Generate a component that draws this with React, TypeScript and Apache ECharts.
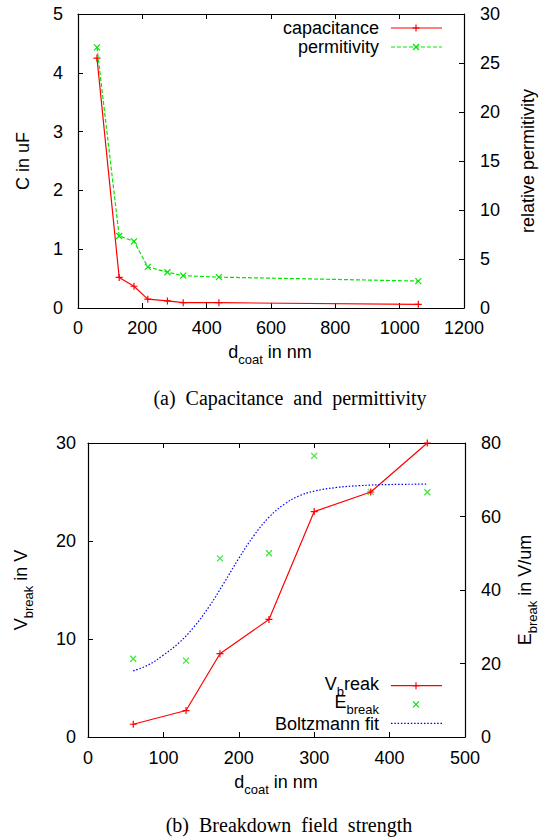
import React, { useEffect, useRef } from 'react';
import * as echarts from 'echarts';

// ---- (a) Capacitance and permittivity ----
const dCoatA = [59, 128, 174, 217, 278, 327, 438, 1058];
const capacitance = [4.25, 0.52, 0.37, 0.15, 0.12, 0.09, 0.09, 0.063];
const permittivity = [26.6, 7.35, 6.8, 4.2, 3.65, 3.3, 3.15, 2.75];
const xRangeA = [0, 1200, 200];
const yLeftRangeA = [0, 5, 1];
const yRightRangeA = [0, 30, 5];

// ---- (b) Breakdown field strength ----
const dCoatB = [60, 130, 175, 240, 300, 375, 450];
const vBreak = [1.3, 2.7, 8.5, 12.0, 23.0, 25.0, 30.0];
const eBreak = [21.3, 20.8, 48.6, 50.0, 76.5, 66.7, 66.6];
const fitD = [60, 80, 100, 120, 140, 160, 180, 200, 220, 240, 260, 280, 300, 330, 360, 400, 450];
const fitE = [18.0, 19.6, 22.3, 25.5, 29.8, 35.3, 41.8, 48.6, 54.8, 59.8, 63.3, 65.6, 66.9, 67.9, 68.4, 68.7, 68.8];
const xRangeB = [0, 500, 100];
const yLeftRangeB = [0, 30, 10];
const yRightRangeB = [0, 80, 20];

const SANS = '"Liberation Sans", Arial, Helvetica, sans-serif';
const SERIF = '"Liberation Serif", "Times New Roman", serif';
const RED = '#ff0000';
const GREEN = '#00e600';
const BLUE = '#0000ff';
const PLUS = 'path://M0,5L10,5M5,0L5,10';
const CROSS = 'path://M0,0L10,10M10,0L0,10';

const zip = (a: number[], b: number[]) => a.map((v, i) => [v, b[i]]);

function xAxisCfg(gridIndex: number, r: number[], position: string, showLabel: boolean, margin: number) {
  return {
    type: 'value', gridIndex, position, min: r[0], max: r[1], interval: r[2],
    axisLine: { show: true, onZero: false, lineStyle: { color: '#000', width: 1.2 } },
    axisTick: { show: true, inside: true, length: 5, lineStyle: { color: '#000', width: 1 } },
    axisLabel: { show: showLabel, fontSize: 18, fontFamily: SANS, color: '#000', margin, formatter: (v: number) => String(v) },
    splitLine: { show: false },
  };
}
function yAxisCfg(gridIndex: number, r: number[], position: string, margin: number) {
  return {
    type: 'value', gridIndex, position, min: r[0], max: r[1], interval: r[2],
    axisLine: { show: true, onZero: false, lineStyle: { color: '#000', width: 1.2 } },
    axisTick: { show: true, inside: true, length: 5, lineStyle: { color: '#000', width: 1 } },
    axisLabel: { show: true, fontSize: 18, fontFamily: SANS, color: '#000', margin, formatter: (v: number) => String(v) },
    splitLine: { show: false },
  };
}

const rich = {
  n: { fontSize: 18, fontFamily: SANS, fill: '#000', lineHeight: 23, verticalAlign: 'top' },
  s: { fontSize: 13, fontFamily: SANS, fill: '#000', verticalAlign: 'bottom' },
};

function label(x: number, y: number, text: string, align: string, rotate = false, useRich = false) {
  return {
    type: 'text', x, y, rotation: rotate ? Math.PI / 2 : 0,
    style: {
      text, fill: '#000', fontSize: 18, fontFamily: SANS,
      align, verticalAlign: 'middle', textAlign: align, textVerticalAlign: 'middle',
      ...(useRich ? { rich } : {}),
    },
  };
}
function seg(x1: number, y1: number, x2: number, y2: number, color: string, dash?: number[]) {
  return { type: 'line', shape: { x1, y1, x2, y2 }, style: { stroke: color, lineWidth: 1.2, lineDash: dash } };
}
function plusMark(x: number, y: number, color: string) {
  return [seg(x - 3.5, y, x + 3.5, y, color), seg(x, y - 3.5, x, y + 3.5, color)];
}
function crossMark(x: number, y: number, color: string) {
  return [seg(x - 3, y - 3, x + 3, y + 3, color), seg(x - 3, y + 3, x + 3, y - 3, color)];
}

const option = {
  animation: false,
  backgroundColor: '#fff',
  grid: [
    { left: 78, top: 14, width: 386, height: 294 },
    { left: 88, top: 443, width: 377, height: 294 },
  ],
  xAxis: [
    xAxisCfg(0, xRangeA, 'bottom', true, 11),
    xAxisCfg(0, xRangeA, 'top', false, 11),
    xAxisCfg(1, xRangeB, 'bottom', true, 12),
    xAxisCfg(1, xRangeB, 'top', false, 12),
  ],
  yAxis: [
    yAxisCfg(0, yLeftRangeA, 'left', 15),
    yAxisCfg(0, yRightRangeA, 'right', 16),
    yAxisCfg(1, yLeftRangeB, 'left', 12),
    yAxisCfg(1, yRightRangeB, 'right', 16),
  ],
  series: [
    {
      name: 'capacitance', type: 'line', xAxisIndex: 0, yAxisIndex: 0,
      data: zip(dCoatA, capacitance), symbol: PLUS, symbolSize: 7, showAllSymbol: true,
      lineStyle: { color: RED, width: 1.2 },
      itemStyle: { color: RED, borderColor: RED, borderWidth: 1.2 },
    },
    {
      name: 'permitivity', type: 'line', xAxisIndex: 0, yAxisIndex: 1,
      data: zip(dCoatA, permittivity), symbol: CROSS, symbolSize: 6, showAllSymbol: true,
      lineStyle: { color: GREEN, width: 1.2, type: [4, 2] },
      itemStyle: { color: GREEN, borderColor: GREEN, borderWidth: 1.2 },
    },
    {
      name: 'Vbreak', type: 'line', xAxisIndex: 2, yAxisIndex: 2,
      data: zip(dCoatB, vBreak), symbol: PLUS, symbolSize: 7, showAllSymbol: true,
      lineStyle: { color: RED, width: 1.2 },
      itemStyle: { color: RED, borderColor: RED, borderWidth: 1.2 },
    },
    {
      name: 'Ebreak', type: 'scatter', xAxisIndex: 2, yAxisIndex: 3,
      data: zip(dCoatB, eBreak), symbol: CROSS, symbolSize: 6,
      itemStyle: { color: GREEN, borderColor: GREEN, borderWidth: 1.2 },
    },
    {
      name: 'Boltzmann fit', type: 'line', xAxisIndex: 2, yAxisIndex: 3,
      data: zip(fitD, fitE), smooth: 0.4, symbol: 'none',
      lineStyle: { color: BLUE, width: 1.2, type: [1.5, 1.8] },
    },
  ],
  graphic: [
    // chart (a) titles
    label(23, 161, 'C in uF', 'center', true),
    label(528, 161, 'relative permitivity', 'center', true),
    label(270, 354.3, '{n|d}{s|coat}{n| in nm}', 'center', false, true),
    { type: 'text', x: 290, y: 398, style: { text: '(a)\u2002Capacitance\u2002and\u2002permittivity', fill: '#000', fontSize: 20, fontFamily: SERIF, align: 'center', verticalAlign: 'middle', textAlign: 'center', textVerticalAlign: 'middle' } },
    // chart (a) legend
    label(379, 27.5, 'capacitance', 'right'),
    seg(391, 28, 442, 28, RED),
    ...plusMark(416, 28, RED),
    label(379, 46.5, 'permitivity', 'right'),
    seg(391, 47, 442, 47, GREEN, [4, 2]),
    ...crossMark(416, 47, GREEN),
    // chart (b) titles
    label(23, 590, '{n|V}{s|break}{n| in V}', 'center', true, true),
    label(527, 590, '{n|E}{s|break}{n| in V/um}', 'center', true, true),
    label(276, 784.3, '{n|d}{s|coat}{n| in nm}', 'center', false, true),
    { type: 'text', x: 289, y: 825, style: { text: '(b)\u2002Breakdown\u2002field\u2002strength', fill: '#000', fontSize: 20, fontFamily: SERIF, align: 'center', verticalAlign: 'middle', textAlign: 'center', textVerticalAlign: 'middle' } },
    // chart (b) legend
    label(379, 686, '{n|V}{s|b}{n|reak}', 'right', false, true),
    seg(391, 685.7, 442, 685.7, RED),
    ...plusMark(416, 685.7, RED),
    label(379, 704.5, '{n|E}{s|break}', 'right', false, true),
    ...crossMark(416, 704.3, GREEN),
    label(379, 724, 'Boltzmann fit', 'right'),
    seg(391, 723.3, 442, 723.3, BLUE, [1.5, 1.8]),
  ],
};

export default function App() {
  const ref = useRef<HTMLDivElement>(null);
  useEffect(() => {
    const chart = echarts.init(ref.current!, undefined, { renderer: 'svg' });
    chart.setOption(option as any);
    return () => chart.dispose();
  }, []);
  return (
    <div
      ref={ref}
      style={{ position: 'fixed', left: 0, top: 0, width: 540, height: 840, background: '#fff' }}
    />
  );
}
